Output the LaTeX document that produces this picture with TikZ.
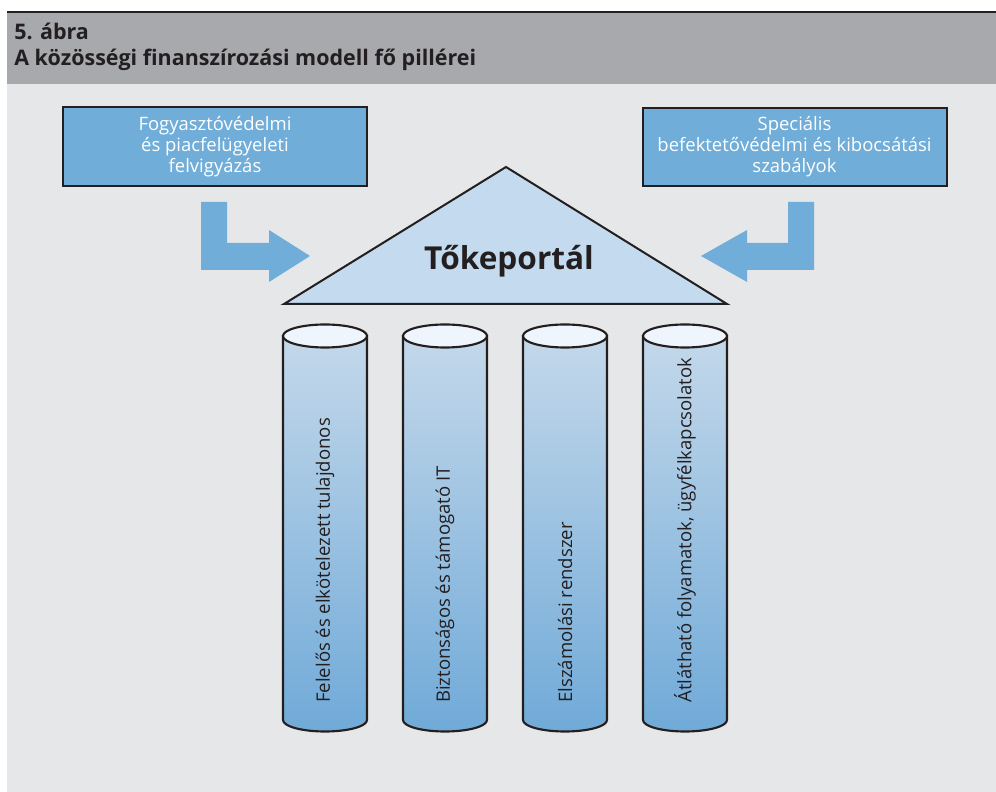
\documentclass[tikz,border=0pt]{standalone}
\usepackage{fontspec}
\setmainfont{Open Sans}
\usepackage{xcolor}
\usetikzlibrary{positioning}

\definecolor{pagegrey}{RGB}{230,231,232}
\definecolor{bandgrey}{RGB}{167,169,172}
\definecolor{boxblue}{RGB}{112,173,217}
\definecolor{roofblue}{RGB}{196,218,239}
\definecolor{inkdark}{RGB}{35,31,32}
\definecolor{captop}{RGB}{239,245,252}
\definecolor{pillartop}{RGB}{196,216,234}
\definecolor{pillarbot}{RGB}{112,170,216}

\begin{document}
\begin{tikzpicture}[x=0.75pt, y=0.75pt,
    headtext/.style={anchor=base west, inner sep=0pt, text=inkdark, font=\bfseries\fontsize{16.1}{19}\selectfont},
    infobox/.style={rectangle, draw=inkdark, line width=1.5pt, fill=boxblue, text=white, align=center, minimum width=228pt, minimum height=59pt, font=\fontsize{13.85}{15.75}\selectfont},
    turnarrow/.style={fill=boxblue},
    roof/.style={draw=inkdark, line width=1.5pt, fill=roofblue},
    pillar/.style={draw=inkdark, line width=1.6pt, top color=pillartop, bottom color=pillarbot},
    pillarcap/.style={draw=inkdark, line width=1.6pt, fill=captop},
    pillartext/.style={rotate=90, anchor=west, inner sep=0pt, text=inkdark, font=\fontsize{13.9}{16}\selectfont}]
        \useasboundingbox (0,0) rectangle (996,792);
        \fill[white] (0,0) rectangle (996,792);
        \fill[pagegrey] (7,0) rectangle (996,708);
        \fill[bandgrey] (7,708) rectangle (996,779);
        \draw[inkdark, line width=1.6pt] (7,780) -- (996,780);

        \node[headtext] (fignum) at (14,752) {5. ábra};
        \node[headtext] (figtitle) at (14,726) {A közösségi finanszírozási modell fő pillérei};

        \node[infobox] (oversight) at (215,645.5) {Fogyasztóvédelmi\\és piacfelügyeleti\\felvigyázás};
        \node[infobox] (investor) at (794.5,645) {Speciális\\befektetővédelmi és kibocsátási\\szabályok};

        \fill[turnarrow] (201,590) -- (227,590) -- (227,549) -- (269,549) -- (269,562) -- (310,536) -- (269,510) -- (269,522) -- (201,522) -- cycle;
        \fill[turnarrow] (814,590) -- (788,590) -- (788,549) -- (747,549) -- (747,562) -- (701,536) -- (747,510) -- (747,522) -- (814,522) -- cycle;

        \draw[roof] (284,488) -- (506,625) -- (727,488) -- cycle;
        \node[anchor=base, text=inkdark, font=\bfseries\fontsize{23.7}{28}\selectfont] (portal) at (509,522) {Tőkeportál};

        \shade[pillar] (283,456) -- (283,72) arc[start angle=180, end angle=360, x radius=42, y radius=11.5] -- (367,456) -- cycle;
        \draw[pillarcap] (325,456) ellipse [x radius=42, y radius=11.5];
        \node[pillartext] (owner) at (325,89) {Felelős és elkötelezett tulajdonos};

        \shade[pillar] (403,456) -- (403,72) arc[start angle=180, end angle=360, x radius=42, y radius=11.5] -- (487,456) -- cycle;
        \draw[pillarcap] (445,456) ellipse [x radius=42, y radius=11.5];
        \node[pillartext] (secureit) at (445,89) {Biztonságos és támogató IT};

        \shade[pillar] (523,456) -- (523,72) arc[start angle=180, end angle=360, x radius=42, y radius=11.5] -- (607,456) -- cycle;
        \draw[pillarcap] (565,456) ellipse [x radius=42, y radius=11.5];
        \node[pillartext] (settlement) at (565,89) {Elszámolási rendszer};

        \shade[pillar] (643,456) -- (643,72) arc[start angle=180, end angle=360, x radius=42, y radius=11.5] -- (727,456) -- cycle;
        \draw[pillarcap] (685,456) ellipse [x radius=42, y radius=11.5];
        \node[pillartext] (transparent) at (685,89) {Átlátható folyamatok, ügyfélkapcsolatok};
    \end{tikzpicture}
\end{document}
